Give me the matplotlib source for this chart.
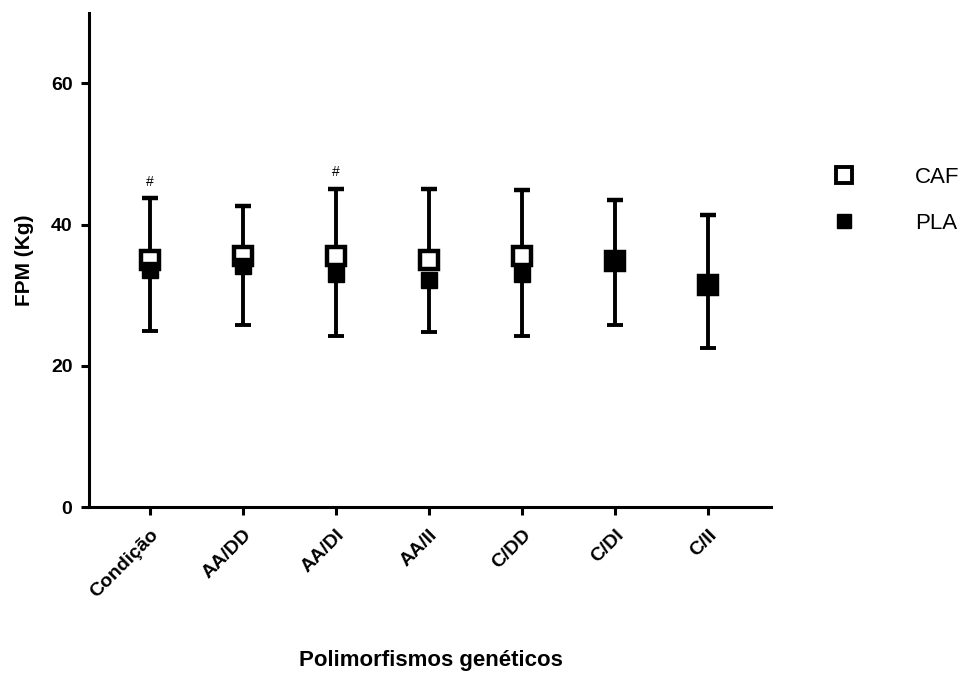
import matplotlib.pyplot as plt
from matplotlib.lines import Line2D
import numpy as np

plt.rcParams['font.family'] = ['Liberation Sans', 'DejaVu Sans']

# dados
grupos = ['Condição', 'AA/DD', 'AA/DI', 'AA/II', 'C/DD', 'C/DI', 'C/II']
caf_media = [35.0, 35.6, 35.5, 35.0, 35.5, 34.9, 31.5]
caf_dp = [8.7, 7.0, 9.5, 10.1, 9.4, 8.6, 9.9]
pla_media = [33.6, 34.2, 33.0, 32.2, 33.0, 34.9, 31.5]
pla_dp = [8.7, 8.4, 8.8, 7.4, 8.8, 9.1, 9.0]
marcas = {0: '#', 2: '#'}

x = np.arange(len(grupos))
zeros = np.zeros(len(grupos))

fig = plt.figure(figsize=(9.68, 6.79), dpi=100)
ax = fig.add_axes([0.092, 0.2533, 0.705, 0.728])

# CAF: barra de erro para cima
ax.errorbar(x, caf_media, yerr=[zeros, caf_dp], fmt='s', color='black',
            ecolor='black', elinewidth=2.8, capsize=5.5, capthick=2.8,
            markersize=12.5, markerfacecolor='white', markeredgecolor='black',
            markeredgewidth=3.2, zorder=3)
# PLA: barra de erro para baixo
ax.errorbar(x, pla_media, yerr=[pla_dp, zeros], fmt='s', color='black',
            ecolor='black', elinewidth=2.8, capsize=5.5, capthick=2.8,
            markersize=11.5, markerfacecolor='black', markeredgecolor='black',
            zorder=4)

for i, s in marcas.items():
    ax.text(x[i], caf_media[i] + caf_dp[i] + 1.4, s, ha='center', va='bottom',
            fontsize=10)

ax.set_xlim(-0.656, 6.68)
ax.set_ylim(0, 70)
ax.set_yticks([0, 20, 40, 60])
ax.set_xticks(x)
ax.set_xticklabels(grupos, rotation=45, ha='right', rotation_mode='anchor',
                   fontweight='bold', fontsize=14)
for lab in ax.get_yticklabels():
    lab.set_fontweight('bold')
    lab.set_fontsize(14)

for sp in ['top', 'right']:
    ax.spines[sp].set_visible(False)
for sp in ['left', 'bottom']:
    ax.spines[sp].set_linewidth(2.2)
ax.tick_params(axis='both', width=2.2, length=6, direction='out')
ax.tick_params(axis='x', pad=8)
ax.tick_params(axis='y', pad=6)

ax.set_ylabel('FPM (Kg)', fontweight='bold', fontsize=15, labelpad=12)
fig.text(0.445, 0.012, 'Polimorfismos genéticos', ha='center', va='bottom',
         fontweight='bold', fontsize=16)

handles = [
    Line2D([], [], marker='s', linestyle='none', markersize=11,
           markerfacecolor='white', markeredgecolor='black', markeredgewidth=2.8),
    Line2D([], [], marker='s', linestyle='none', markersize=10,
           markerfacecolor='black', markeredgecolor='black'),
]
fig.legend(handles, ['CAF', 'PLA'], loc='upper left',
           bbox_to_anchor=(0.828, 0.784), frameon=False, fontsize=16,
           handletextpad=2.2, labelspacing=1.15)

plt.savefig('out.png', dpi=100)
